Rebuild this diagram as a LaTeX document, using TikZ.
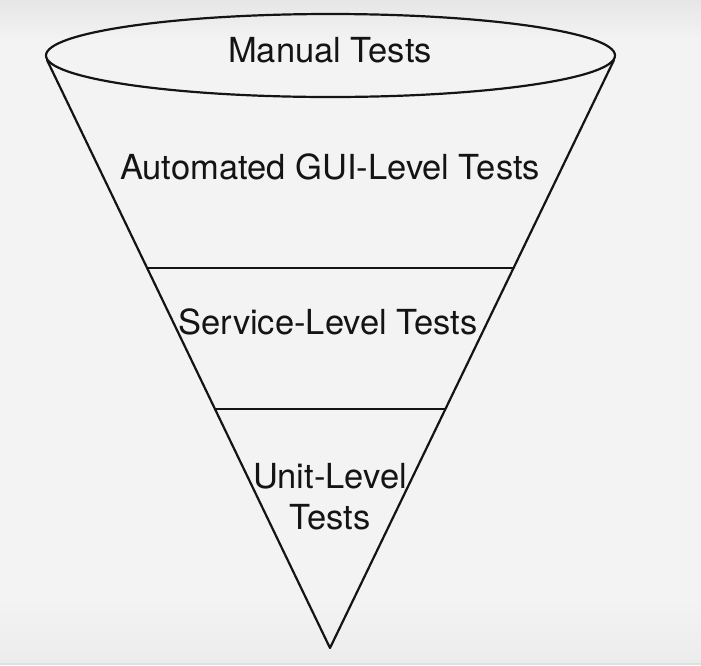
\documentclass[tikz,border=0pt]{standalone}
\usepackage{fontspec}
\setmainfont{TeX Gyre Heros}
\definecolor{bgc}{RGB}{243,243,243}
\definecolor{bgtop}{RGB}{230,230,230}
\definecolor{bgbot}{RGB}{236,236,236}
\definecolor{ink}{RGB}{20,20,20}
\tikzset{
  funnel/.style={draw=ink, line width=2.2pt, line join=round},
  lvl/.style={anchor=base, inner sep=0pt, text=ink, font=\fontsize{34.5}{41}\selectfont},
}
\begin{document}
\begin{tikzpicture}[x=1pt,y=-1pt]
\useasboundingbox (0,0) rectangle (701,665);
\fill[bgc] (0,0) rectangle (701,665);
\shade[top color=bgtop, bottom color=bgc] (0,0) rectangle (701,40);
\shade[top color=bgc, bottom color=bgbot] (0,600) rectangle (701,663);
\fill[black!12] (0,663) rectangle (701,665);
% funnel cone
\coordinate (lt) at (47,60);
\coordinate (rt) at (614,60);
\coordinate (apex) at (330,648);
\draw[funnel] (lt) -- (apex) -- (rt);
% top ellipse
\draw[funnel] (330.5,55.5) ellipse [x radius=284.5, y radius=41.5];
% level dividers
\coordinate (d1l) at (146.5,268);
\coordinate (d1r) at (513.5,268);
\coordinate (d2l) at (214.5,409);
\coordinate (d2r) at (444.5,409);
\draw[funnel] (d1l) -- (d1r);
\draw[funnel] (d2l) -- (d2r);
% labels
\node[lvl] (manual) at (330,62) {Manual Tests};
\node[lvl] (gui) at (330,179) {Automated GUI-Level Tests};
\node[lvl] (service) at (328,334) {Service-Level Tests};
\node[lvl] (unit1) at (330,488) {Unit-Level};
\node[lvl] (unit2) at (330,529) {Tests};
\end{tikzpicture}
\end{document}
